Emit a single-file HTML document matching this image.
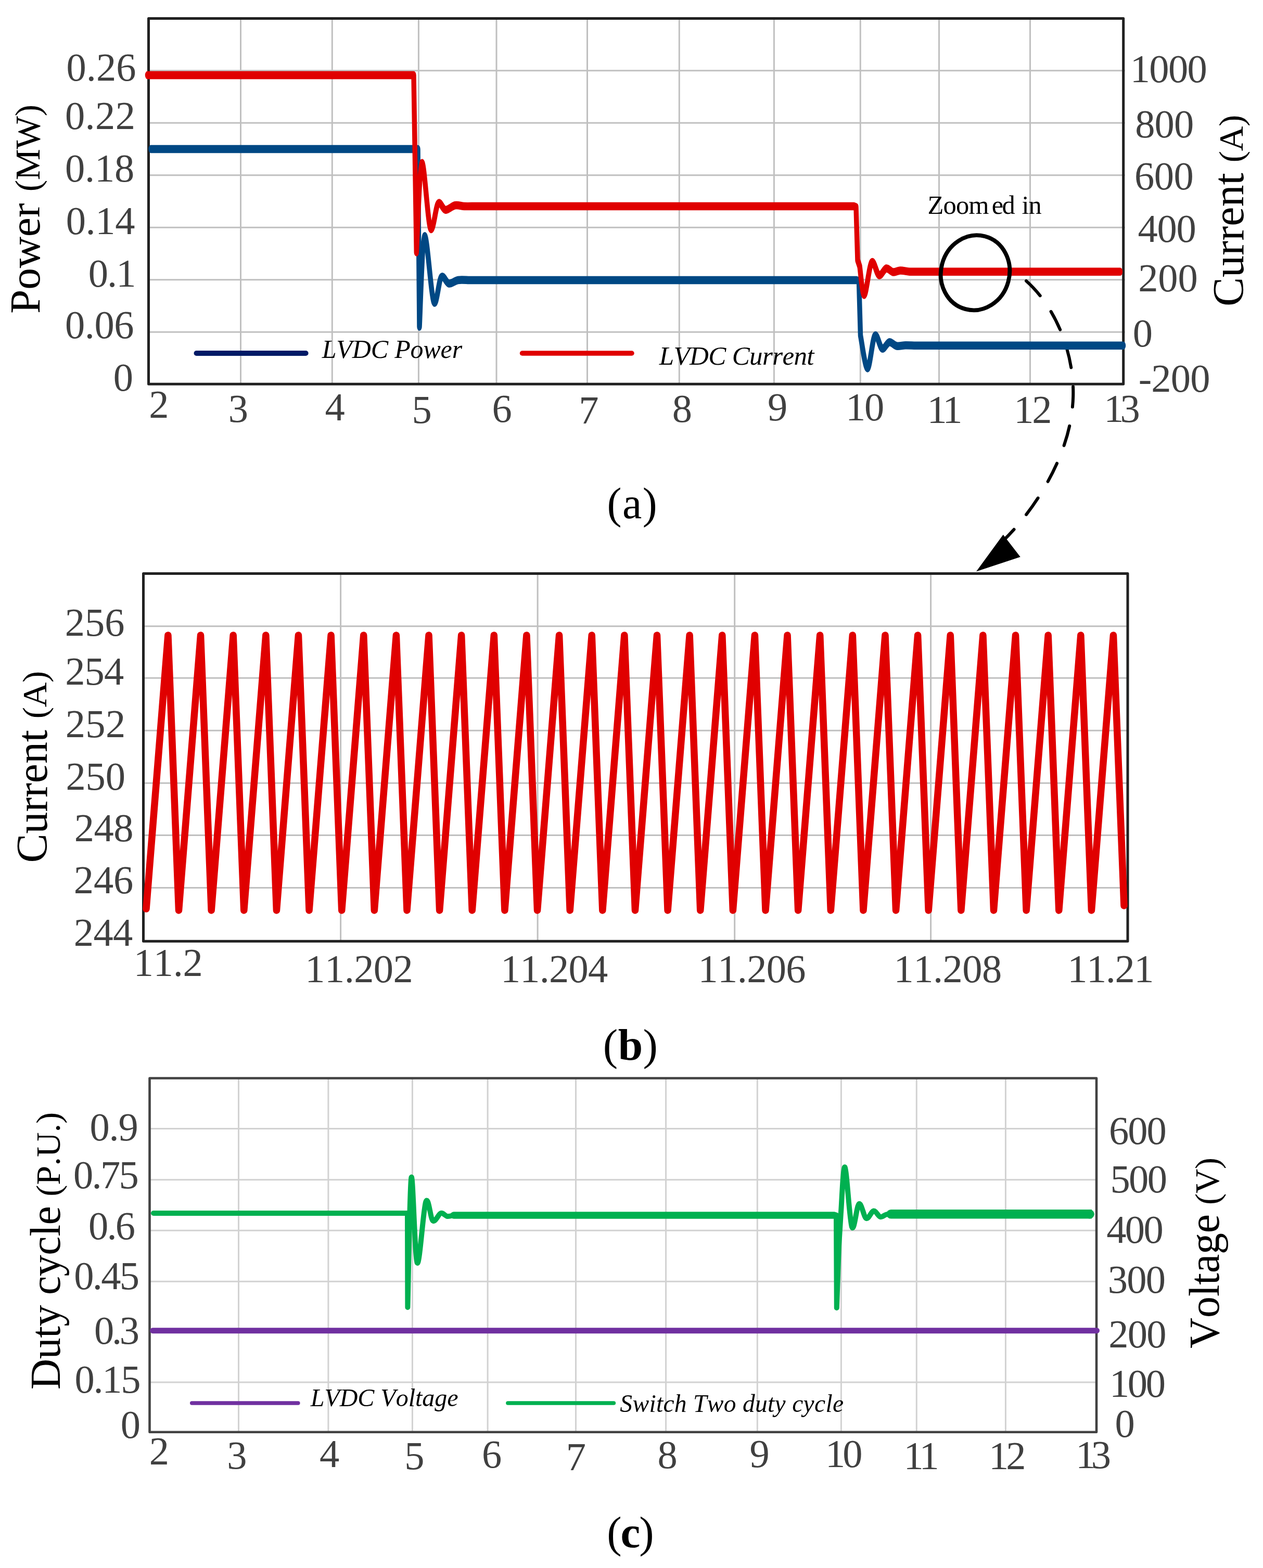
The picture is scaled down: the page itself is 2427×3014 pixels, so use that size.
<!DOCTYPE html>
<html><head><meta charset="utf-8"><title>LVDC simulation results</title>
<style>html,body{margin:0;padding:0;background:#fff;}body{width:2427px;height:3014px;overflow:hidden;}svg{display:block;}</style>
</head><body>
<svg width="2427" height="3014" viewBox="0 0 2427 3014" font-family="'Liberation Serif', 'Times New Roman', serif" style="font-kerning:none;font-variant-ligatures:none">
<rect width="2427" height="3014" fill="#fff"/>
<line x1="285.5" y1="135.7" x2="2161.7" y2="135.7" stroke="#c0c0c0" stroke-width="3" stroke-linecap="butt"/>
<line x1="285.5" y1="236.3" x2="2161.7" y2="236.3" stroke="#c0c0c0" stroke-width="3" stroke-linecap="butt"/>
<line x1="285.5" y1="336.8" x2="2161.7" y2="336.8" stroke="#c0c0c0" stroke-width="3" stroke-linecap="butt"/>
<line x1="285.5" y1="437.3" x2="2161.7" y2="437.3" stroke="#c0c0c0" stroke-width="3" stroke-linecap="butt"/>
<line x1="285.5" y1="537.8" x2="2161.7" y2="537.8" stroke="#c0c0c0" stroke-width="3" stroke-linecap="butt"/>
<line x1="285.5" y1="638.2" x2="2161.7" y2="638.2" stroke="#c0c0c0" stroke-width="3" stroke-linecap="butt"/>
<line x1="462.5" y1="35.5" x2="462.5" y2="738.2" stroke="#c0c0c0" stroke-width="3" stroke-linecap="butt"/>
<line x1="638.3" y1="35.5" x2="638.3" y2="738.2" stroke="#c0c0c0" stroke-width="3" stroke-linecap="butt"/>
<line x1="804.4" y1="35.5" x2="804.4" y2="738.2" stroke="#c0c0c0" stroke-width="3" stroke-linecap="butt"/>
<line x1="954" y1="35.5" x2="954" y2="738.2" stroke="#c0c0c0" stroke-width="3" stroke-linecap="butt"/>
<line x1="1128.5" y1="35.5" x2="1128.5" y2="738.2" stroke="#c0c0c0" stroke-width="3" stroke-linecap="butt"/>
<line x1="1305.3" y1="35.5" x2="1305.3" y2="738.2" stroke="#c0c0c0" stroke-width="3" stroke-linecap="butt"/>
<line x1="1487.4" y1="35.5" x2="1487.4" y2="738.2" stroke="#c0c0c0" stroke-width="3" stroke-linecap="butt"/>
<line x1="1653.3" y1="35.5" x2="1653.3" y2="738.2" stroke="#c0c0c0" stroke-width="3" stroke-linecap="butt"/>
<line x1="1804.5" y1="35.5" x2="1804.5" y2="738.2" stroke="#c0c0c0" stroke-width="3" stroke-linecap="butt"/>
<line x1="1979.5" y1="35.5" x2="1979.5" y2="738.2" stroke="#c0c0c0" stroke-width="3" stroke-linecap="butt"/>
<rect x="285.5" y="35.5" width="1873.2" height="702.7" fill="none" stroke="#212121" stroke-width="5" stroke-linejoin="round"/>
<path d="M1972 540 C 2036 597, 2072 700, 2060 790 C 2050 880, 1990 980, 1925 1042" fill="none" stroke="#000" stroke-width="6" stroke-linecap="round" stroke-dasharray="39 37"/>
<polygon points="1876,1098.5 1927.7,1027.7 1960.7,1070.6" fill="#000"/>
<g transform="scale(1 1.63)">
<path d="M290 175.77 L803 175.77 L806 385.28 C807.63 367.48 811.22 283.44 815.8 278.53 C820.38 273.62 828.17 347.75 833.5 355.83 C838.83 363.91 842.95 330.57 847.8 326.99 C852.65 323.42 857.23 333.79 862.6 334.36 C867.97 334.92 873.77 331.03 880 330.37 C886.23 329.7 896.67 330.37 900 330.37 L910 330.37 L1646 330.37 L1650.5 331.29 L1653.5 395.71 C1655.75 402.15 1662.42 434.3 1667 434.36 C1671.58 434.41 1676.33 399.9 1681 396.01 C1685.67 392.13 1690.33 409.8 1695 411.04 C1699.67 412.29 1704.33 404.01 1709 403.5 C1713.67 402.99 1717.83 407.35 1723 407.98 C1728.17 408.6 1733.83 407.31 1740 407.24 C1746.17 407.17 1756.67 407.49 1760 407.55 L1770 407.55 L2158.5 407.55" fill="none" stroke="#004884" stroke-width="9.5" stroke-linejoin="round" stroke-linecap="round"/>
</g>
<g transform="scale(1 1.63)">
<path d="M283.5 88.65 L795 88.65 L800.3 297.55 C802.02 280.01 806.15 197.09 810.6 192.33 C815.05 187.58 821.8 261.05 827 269.02 C832.2 276.98 836.97 243.71 841.8 240.12 C846.63 236.53 850.58 247.14 856 247.48 C861.42 247.83 868.3 242.91 874.3 242.21 C880.3 241.5 886.05 243.08 892 243.25 C897.95 243.43 907 243.25 910 243.25 L920 243.25 L1641 243.25 L1645 244.17 L1648 306.75 L1652 314.11 C1653.47 319.73 1656.98 348.62 1660.8 347.85 C1664.62 347.09 1670.2 313.39 1674.9 309.51 C1679.6 305.62 1684.32 323.36 1689 324.54 C1693.68 325.72 1698.5 317.18 1703 316.56 C1707.5 315.95 1711.5 320.45 1716 320.86 C1720.5 321.27 1724.67 319.1 1730 319.02 C1735.33 318.94 1742.17 320.14 1748 320.37 C1753.83 320.59 1762.17 320.37 1765 320.37 L2152.5 320.37" fill="none" stroke="#e00000" stroke-width="9.5" stroke-linejoin="round" stroke-linecap="round"/>
</g>
<line x1="377.5" y1="679" x2="587.6" y2="679" stroke="#001a66" stroke-width="10" stroke-linecap="round"/>
<line x1="1003.5" y1="679" x2="1214" y2="679" stroke="#e00000" stroke-width="9.5" stroke-linecap="round"/>
<text x="618.69" y="687.5" font-size="50" font-style="italic" letter-spacing="-0.16" fill="#000">LVDC Power</text>
<text x="1266.7" y="700.8" font-size="51" font-style="italic" letter-spacing="-0.62" fill="#000">LVDC Current</text>
<text x="127.59" y="154.65" font-size="76.5" letter-spacing="0.01" fill="#404040">0.26</text>
<text x="124.99" y="247.75" font-size="76.5" letter-spacing="0.35" fill="#404040">0.22</text>
<text x="124.99" y="348.7" font-size="76.5" letter-spacing="-0.18" fill="#404040">0.18</text>
<text x="126.69" y="450.45" font-size="76.5" letter-spacing="-0.39" fill="#404040">0.14</text>
<text x="169.79" y="550.65" font-size="76.5" letter-spacing="-1.91" fill="#404040">0.1</text>
<text x="124.89" y="649.95" font-size="76.5" letter-spacing="-0.43" fill="#404040">0.06</text>
<text x="217.79" y="751.06" font-size="76.5" letter-spacing="0" fill="#404040">0</text>
<text x="2171.68" y="157.81" font-size="76.5" letter-spacing="-1.62" fill="#404040">1000</text>
<text x="2181.19" y="264.01" font-size="76.5" letter-spacing="-0.86" fill="#404040">800</text>
<text x="2180.01" y="364.06" font-size="76.5" letter-spacing="-0.47" fill="#404040">600</text>
<text x="2186.41" y="464.81" font-size="76.5" letter-spacing="-1.17" fill="#404040">400</text>
<text x="2187.14" y="559.66" font-size="76.5" letter-spacing="-0.04" fill="#404040">200</text>
<text x="2176.69" y="665.81" font-size="76.5" letter-spacing="0" fill="#404040">0</text>
<text x="2187.66" y="752.66" font-size="76.5" letter-spacing="-0.76" fill="#404040">-200</text>
<text x="286.34" y="802.78" font-size="76.5" letter-spacing="0" fill="#404040">2</text>
<text x="438.74" y="811.05" font-size="76.5" letter-spacing="0" fill="#404040">3</text>
<text x="624.41" y="807.73" font-size="76.5" letter-spacing="0" fill="#404040">4</text>
<text x="791.55" y="812.97" font-size="76.5" letter-spacing="0" fill="#404040">5</text>
<text x="945.41" y="810.75" font-size="76.5" letter-spacing="0" fill="#404040">6</text>
<text x="1112.16" y="814.35" font-size="76.5" letter-spacing="0" fill="#404040">7</text>
<text x="1291.69" y="810.76" font-size="76.5" letter-spacing="0" fill="#404040">8</text>
<text x="1475.03" y="808" font-size="76.5" letter-spacing="0" fill="#404040">9</text>
<text x="1624.88" y="807.86" font-size="76.5" letter-spacing="-2.06" fill="#404040">10</text>
<text x="1781.58" y="812.85" font-size="76.5" letter-spacing="-8.48" fill="#404040">11</text>
<text x="1948.28" y="812.93" font-size="76.5" letter-spacing="-3.26" fill="#404040">12</text>
<text x="2121.18" y="810.85" font-size="76.5" letter-spacing="-6.89" fill="#404040">13</text>
<text transform="translate(75.7 602.91) rotate(-90)" font-size="83.5" letter-spacing="-0.25" fill="#000">Power</text>
<text transform="translate(75.7 368.37) rotate(-90)" font-size="67.5" letter-spacing="-0.45" fill="#000">(MW)</text>
<text transform="translate(2388.6 589.05) rotate(-90)" font-size="84" letter-spacing="0.06" fill="#000">Current</text>
<text transform="translate(2387.8 312.32) rotate(-90)" font-size="66.5" letter-spacing="-0.38" fill="#000">(A)</text>
<text x="1782.58" y="410.8" font-size="50.5" letter-spacing="-0.87" fill="#000">Zoom</text>
<text x="1905.63" y="410.8" font-size="50.5" letter-spacing="-2.58" fill="#000">ed</text>
<text x="1963.54" y="410.8" font-size="50.5" letter-spacing="-1.16" fill="#000">in</text>
<ellipse cx="1874" cy="524.2" rx="65.8" ry="72.4" transform="rotate(15 1874 524.2)" fill="none" stroke="#000" stroke-width="7.8"/>
<text x="1166.4" y="995.6" font-size="84" letter-spacing="1.6" fill="#000">(a)</text>
<line x1="275.5" y1="1203.7" x2="2167" y2="1203.7" stroke="#c0c0c0" stroke-width="3" stroke-linecap="butt"/>
<line x1="275.5" y1="1303.3" x2="2167" y2="1303.3" stroke="#c0c0c0" stroke-width="3" stroke-linecap="butt"/>
<line x1="275.5" y1="1404.2" x2="2167" y2="1404.2" stroke="#c0c0c0" stroke-width="3" stroke-linecap="butt"/>
<line x1="275.5" y1="1505.2" x2="2167" y2="1505.2" stroke="#c0c0c0" stroke-width="3" stroke-linecap="butt"/>
<line x1="275.5" y1="1605.4" x2="2167" y2="1605.4" stroke="#c0c0c0" stroke-width="3" stroke-linecap="butt"/>
<line x1="275.5" y1="1706.4" x2="2167" y2="1706.4" stroke="#c0c0c0" stroke-width="3" stroke-linecap="butt"/>
<line x1="654.6" y1="1102.4" x2="654.6" y2="1809.2" stroke="#c0c0c0" stroke-width="3" stroke-linecap="butt"/>
<line x1="1033.1" y1="1102.4" x2="1033.1" y2="1809.2" stroke="#c0c0c0" stroke-width="3" stroke-linecap="butt"/>
<line x1="1411.7" y1="1102.4" x2="1411.7" y2="1809.2" stroke="#c0c0c0" stroke-width="3" stroke-linecap="butt"/>
<line x1="1788.6" y1="1102.4" x2="1788.6" y2="1809.2" stroke="#c0c0c0" stroke-width="3" stroke-linecap="butt"/>
<rect x="275.5" y="1102.4" width="1891.5" height="706.8" fill="none" stroke="#212121" stroke-width="5" stroke-linejoin="round"/>
<path d="M281 1747 L322.9 1221 L343.5 1750 L385.54 1221 L406.14 1750 L448.18 1221 L468.78 1750 L510.82 1221 L531.42 1750 L573.46 1221 L594.06 1750 L636.1 1221 L656.7 1750 L698.74 1221 L719.34 1750 L761.38 1221 L781.98 1750 L824.02 1221 L844.62 1750 L886.66 1221 L907.26 1750 L949.3 1221 L969.9 1750 L1011.94 1221 L1032.54 1750 L1074.58 1221 L1095.18 1750 L1137.22 1221 L1157.82 1750 L1199.86 1221 L1220.46 1750 L1262.5 1221 L1283.1 1750 L1325.14 1221 L1345.74 1750 L1387.78 1221 L1408.38 1750 L1450.42 1221 L1471.02 1750 L1513.06 1221 L1533.66 1750 L1575.7 1221 L1596.3 1750 L1638.34 1221 L1658.94 1750 L1700.98 1221 L1721.58 1750 L1763.62 1221 L1784.22 1750 L1826.26 1221 L1846.86 1750 L1888.9 1221 L1909.5 1750 L1951.54 1221 L1972.14 1750 L2014.18 1221 L2034.78 1750 L2076.82 1221 L2097.42 1750 L2139.46 1221 L2160 1741" fill="none" stroke="#e00000" stroke-width="13.5" stroke-linejoin="round" stroke-linecap="round" />
<text x="124.84" y="1221.7" font-size="76.5" letter-spacing="-0.1" fill="#404040">256</text>
<text x="125.24" y="1315.8" font-size="76.5" letter-spacing="-0.9" fill="#404040">254</text>
<text x="125.64" y="1416.65" font-size="76.5" letter-spacing="0.42" fill="#404040">252</text>
<text x="126.54" y="1518.26" font-size="76.5" letter-spacing="-0.19" fill="#404040">250</text>
<text x="142.74" y="1617.46" font-size="76.5" letter-spacing="-0.44" fill="#404040">248</text>
<text x="141.84" y="1716.9" font-size="76.5" letter-spacing="-0.15" fill="#404040">246</text>
<text x="141.84" y="1818.08" font-size="76.5" letter-spacing="-0.7" fill="#404040">244</text>
<text x="256.78" y="1876.08" font-size="76.5" letter-spacing="-0.28" fill="#404040">11.2</text>
<text x="586.28" y="1888" font-size="76.5" letter-spacing="-0.57" fill="#404040">11.202</text>
<text x="961.88" y="1888" font-size="76.5" letter-spacing="-0.81" fill="#404040">11.204</text>
<text x="1341.48" y="1887.95" font-size="76.5" letter-spacing="-0.65" fill="#404040">11.206</text>
<text x="1717.48" y="1887.95" font-size="76.5" letter-spacing="-0.53" fill="#404040">11.208</text>
<text x="2051.28" y="1887.83" font-size="76.5" letter-spacing="-1.45" fill="#404040">11.21</text>
<text transform="translate(89.5 1658.45) rotate(-90)" font-size="84" letter-spacing="-0.18" fill="#000">Current</text>
<text transform="translate(89 1381.32) rotate(-90)" font-size="66.5" letter-spacing="-0.43" fill="#000">(A)</text>
<text x="1158.85" y="2036.6" font-size="85.3" letter-spacing="0.4" fill="#000">(<tspan font-weight="bold">b</tspan>)</text>
<line x1="287.5" y1="2169.6" x2="2107" y2="2169.6" stroke="#d2d2d2" stroke-width="3" stroke-linecap="butt"/>
<line x1="287.5" y1="2267.7" x2="2107" y2="2267.7" stroke="#d2d2d2" stroke-width="3" stroke-linecap="butt"/>
<line x1="287.5" y1="2365.2" x2="2107" y2="2365.2" stroke="#d2d2d2" stroke-width="3" stroke-linecap="butt"/>
<line x1="287.5" y1="2463.3" x2="2107" y2="2463.3" stroke="#d2d2d2" stroke-width="3" stroke-linecap="butt"/>
<line x1="287.5" y1="2560.5" x2="2107" y2="2560.5" stroke="#d2d2d2" stroke-width="3" stroke-linecap="butt"/>
<line x1="287.5" y1="2657" x2="2107" y2="2657" stroke="#d2d2d2" stroke-width="3" stroke-linecap="butt"/>
<line x1="458.5" y1="2072.5" x2="458.5" y2="2752.8" stroke="#d2d2d2" stroke-width="3" stroke-linecap="butt"/>
<line x1="630.9" y1="2072.5" x2="630.9" y2="2752.8" stroke="#d2d2d2" stroke-width="3" stroke-linecap="butt"/>
<line x1="792.4" y1="2072.5" x2="792.4" y2="2752.8" stroke="#d2d2d2" stroke-width="3" stroke-linecap="butt"/>
<line x1="937.1" y1="2072.5" x2="937.1" y2="2752.8" stroke="#d2d2d2" stroke-width="3" stroke-linecap="butt"/>
<line x1="1106.5" y1="2072.5" x2="1106.5" y2="2752.8" stroke="#d2d2d2" stroke-width="3" stroke-linecap="butt"/>
<line x1="1279.6" y1="2072.5" x2="1279.6" y2="2752.8" stroke="#d2d2d2" stroke-width="3" stroke-linecap="butt"/>
<line x1="1455.3" y1="2072.5" x2="1455.3" y2="2752.8" stroke="#d2d2d2" stroke-width="3" stroke-linecap="butt"/>
<line x1="1616.4" y1="2072.5" x2="1616.4" y2="2752.8" stroke="#d2d2d2" stroke-width="3" stroke-linecap="butt"/>
<line x1="1761.3" y1="2072.5" x2="1761.3" y2="2752.8" stroke="#d2d2d2" stroke-width="3" stroke-linecap="butt"/>
<line x1="1932.4" y1="2072.5" x2="1932.4" y2="2752.8" stroke="#d2d2d2" stroke-width="3" stroke-linecap="butt"/>
<rect x="287.5" y="2072.5" width="1819.5" height="680.3" fill="none" stroke="#424242" stroke-width="4.6" stroke-linejoin="round"/>
<line x1="293.5" y1="2557.7" x2="2107.5" y2="2557.7" stroke="#7030a0" stroke-width="11" stroke-linecap="round"/>
<line x1="295" y1="2332" x2="783" y2="2332" stroke="#00b050" stroke-width="10" stroke-linecap="round"/>
<line x1="872" y1="2335.9" x2="1603" y2="2335.9" stroke="#00b050" stroke-width="13.5" stroke-linecap="round"/>
<line x1="1712" y1="2333.7" x2="2094" y2="2333.7" stroke="#00b050" stroke-width="17.5" stroke-linecap="round"/>
<rect x="2092" y="2324.95" width="6" height="17.5" fill="#00b050"/>
<circle cx="2097.5" cy="2333.7" r="5" fill="#00b050"/>
<path d="M783 2332 L783.4 2513 C784.57 2471.42 787.35 2277.75 790.4 2263.5 C793.45 2249.25 797.05 2419.75 801.7 2427.5 C806.35 2435.25 813.28 2323.5 818.3 2310 C823.32 2296.5 827 2342.83 831.8 2346.5 C836.6 2350.17 842.48 2333.42 847.1 2332 C851.72 2330.58 855.35 2337.35 859.5 2338 C863.65 2338.65 869.92 2336.25 872 2335.9" fill="none" stroke="#00b050" stroke-width="10" stroke-linejoin="round" stroke-linecap="round"/>
<path d="M1600 2335.8 L1607 2335.5 L1607.8 2514 L1612 2395 L1616 2330 C1617.27 2315.58 1620.1 2238.75 1623.6 2243.5 C1627.1 2248.25 1632.48 2346.75 1637 2358.5 C1641.52 2370.25 1646.1 2316.75 1650.7 2314 C1655.3 2311.25 1659.92 2339.75 1664.6 2342 C1669.28 2344.25 1674.33 2328 1678.8 2327.5 C1683.27 2327 1687.37 2337.83 1691.4 2339 C1695.43 2340.17 1699.57 2335.38 1703 2334.5 C1706.43 2333.62 1710.5 2333.83 1712 2333.7" fill="none" stroke="#00b050" stroke-width="10" stroke-linejoin="round" stroke-linecap="round"/>
<line x1="368.7" y1="2697" x2="572.8" y2="2697" stroke="#7030a0" stroke-width="7.5" stroke-linecap="round"/>
<line x1="975.9" y1="2697" x2="1179.4" y2="2697" stroke="#00b050" stroke-width="7.5" stroke-linecap="round"/>
<text x="596.76" y="2702.8" font-size="48" font-style="italic" letter-spacing="-0.02" fill="#000">LVDC Voltage</text>
<text x="1191.34" y="2713.7" font-size="47.5" font-style="italic" letter-spacing="0.31" fill="#000">Switch Two duty cycle</text>
<text x="172.49" y="2192.05" font-size="76.5" letter-spacing="-1.24" fill="#404040">0.9</text>
<text x="141.09" y="2283.95" font-size="76.5" letter-spacing="-2.76" fill="#404040">0.75</text>
<text x="170.09" y="2381.95" font-size="76.5" letter-spacing="-2.87" fill="#404040">0.6</text>
<text x="142.29" y="2477.75" font-size="76.5" letter-spacing="-2.72" fill="#404040">0.45</text>
<text x="180.99" y="2582.8" font-size="76.5" letter-spacing="-4.31" fill="#404040">0.3</text>
<text x="143.49" y="2677.15" font-size="76.5" letter-spacing="-2.32" fill="#404040">0.15</text>
<text x="231.79" y="2763.76" font-size="76.5" letter-spacing="0" fill="#404040">0</text>
<text x="2131.01" y="2198.81" font-size="76.5" letter-spacing="-1.97" fill="#404040">600</text>
<text x="2133.55" y="2292.01" font-size="76.5" letter-spacing="-2.7" fill="#404040">500</text>
<text x="2126.21" y="2388.51" font-size="76.5" letter-spacing="-2.62" fill="#404040">400</text>
<text x="2128.84" y="2484.81" font-size="76.5" letter-spacing="-1.74" fill="#404040">300</text>
<text x="2130.24" y="2590.11" font-size="76.5" letter-spacing="-1.79" fill="#404040">200</text>
<text x="2131.88" y="2684.56" font-size="76.5" letter-spacing="-3.26" fill="#404040">100</text>
<text x="2142.59" y="2761.66" font-size="76.5" letter-spacing="0" fill="#404040">0</text>
<text x="286.74" y="2815.33" font-size="76.5" letter-spacing="0" fill="#404040">2</text>
<text x="436.24" y="2822.55" font-size="76.5" letter-spacing="0" fill="#404040">3</text>
<text x="614.01" y="2819.63" font-size="76.5" letter-spacing="0" fill="#404040">4</text>
<text x="777.15" y="2824.17" font-size="76.5" letter-spacing="0" fill="#404040">5</text>
<text x="926.11" y="2821.4" font-size="76.5" letter-spacing="0" fill="#404040">6</text>
<text x="1087.66" y="2826.1" font-size="76.5" letter-spacing="0" fill="#404040">7</text>
<text x="1263.59" y="2821.66" font-size="76.5" letter-spacing="0" fill="#404040">8</text>
<text x="1440.53" y="2819.95" font-size="76.5" letter-spacing="0" fill="#404040">9</text>
<text x="1586.08" y="2819.76" font-size="76.5" letter-spacing="-4.96" fill="#404040">10</text>
<text x="1736.48" y="2823.9" font-size="76.5" letter-spacing="-8.18" fill="#404040">11</text>
<text x="1900.08" y="2823.98" font-size="76.5" letter-spacing="-5.06" fill="#404040">12</text>
<text x="2067.08" y="2821.8" font-size="76.5" letter-spacing="-8.59" fill="#404040">13</text>
<text transform="translate(115 2670.96) rotate(-90)" font-size="82" letter-spacing="-0.52" fill="#000">Duty cycle</text>
<text transform="translate(115 2299.72) rotate(-90)" font-size="66.5" letter-spacing="-0.12" fill="#000">(P.U.)</text>
<text transform="translate(2342 2592.02) rotate(-90)" font-size="82" letter-spacing="-0.22" fill="#000">Voltage</text>
<text transform="translate(2342 2315.68) rotate(-90)" font-size="65.5" letter-spacing="-0.18" fill="#000">(V)</text>
<text x="1166.35" y="2974.4" font-size="85.2" letter-spacing="-2.15" fill="#000">(<tspan font-weight="bold">c</tspan>)</text>
</svg>
</body></html>
